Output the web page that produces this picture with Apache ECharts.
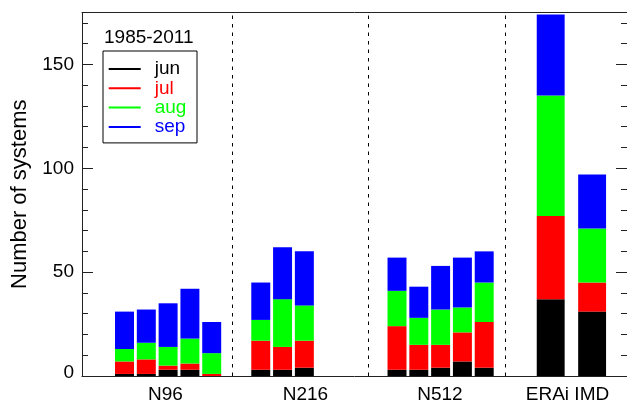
<!DOCTYPE html>
<html>
<head>
<meta charset="utf-8">
<script src="https://cdn.jsdelivr.net/npm/echarts@6/dist/echarts.min.js"></script>
<style>
  html, body { margin: 0; padding: 0; background: #fff; }
  #chart { width: 627px; height: 404px; }
</style>
</head>
<body>
<div id="chart"></div>
<script>
// Seasonal counts of systems per run (1985-2011), stacked by month.
// Bar order: N96 x5, N216 x3, N512 x5, ERAi, IMD
const runs = ['N96', 'N216', 'N512'];
const runMembers = [5, 3, 5];
const references = ['ERAi', 'IMD'];
const months = ['jun', 'jul', 'aug', 'sep'];

const jun = [1, 1, 3, 3, 0,   3, 3, 4,   3, 3, 4, 7, 4,   37, 31];
const jul = [6, 7, 2, 3, 1,  14, 11, 13, 21, 12, 11, 14, 22, 40, 14];
const aug = [6, 8, 9, 12, 10, 10, 23, 17, 17, 13, 17, 12, 19, 58, 26];
const sep = [18, 16, 21, 24, 15, 18, 25, 26, 16, 15, 21, 24, 15, 39, 26];

const yTicksMajor = [0, 50, 100, 150];

// ---- layout (axis units: one unit per bar slot) ----
const FONT = "'Liberation Sans', Arial, Helvetica, sans-serif";
const monthColors = ['#000000', '#ff0000', '#00ff00', '#0000ff'];
const runStart = [1.95, 8.2, 14.45];
const refPos = [21.5, 23.4];
const runBarWidth = 0.87;
const refBarWidth = 1.28;
const separators = [6.9, 13.15, 19.4];
const labelPos = [3.83, 10.25, 16.42, 22.27];
const labelText = runs.concat([references.join(' ')]);

const barX = [];
const barW = [];
runs.forEach((r, g) => {
  for (let i = 0; i < runMembers[g]; i++) { barX.push(runStart[g] + i); barW.push(runBarWidth); }
});
refPos.forEach(p => { barX.push(p); barW.push(refBarWidth); });

const monthValues = [jun, jul, aug, sep];
const base = barX.map(() => 0);
const series = months.map((m, k) => {
  const data = barX.map((x, i) => {
    const y0 = base[i];
    const y1 = y0 + monthValues[k][i];
    base[i] = y1;
    return [x, y0, y1, barW[i]];
  });
  return {
    name: m,
    type: 'custom',
    xAxisIndex: 0,
    yAxisIndex: 0,
    itemStyle: { color: monthColors[k] },
    encode: { x: 0, y: [1, 2] },
    data: data,
    renderItem: function (params, api) {
      const x = api.value(0), y0 = api.value(1), y1 = api.value(2), w = api.value(3);
      if (y1 <= y0) return null;
      const p0 = api.coord([x, y0]);
      const p1 = api.coord([x, y1]);
      const half = api.size([w, 0])[0] / 2;
      return {
        type: 'rect',
        shape: { x: p0[0] - half, y: p1[1], width: half * 2, height: p0[1] - p1[1] },
        style: { fill: api.visual('color') }
      };
    }
  };
});

// dashed separators between runs
series.push({
  type: 'line',
  data: [],
  silent: true,
  markLine: {
    symbol: ['none', 'none'],
    silent: true,
    label: { show: false },
    lineStyle: { color: '#000', width: 1, type: [3.5, 5] },
    data: separators.map(v => ({ xAxis: v }))
  }
});

const minorVals = [];
for (let v = 10; v < 175; v += 10) if (v % 50 !== 0) minorVals.push(v);

const lineStyle = { color: '#222', width: 1 };
function yAxisDef(position, values, len, withLabels) {
  return {
    type: 'value', min: 0, max: 175, position: position,
    axisLine: { show: withLabels, onZero: false, lineStyle: lineStyle },
    axisTick: { show: true, inside: true, length: len, customValues: values, lineStyle: lineStyle },
    axisLabel: withLabels ? {
      show: true, customValues: yTicksMajor, margin: 8,
      fontSize: 19, color: '#000', fontFamily: FONT,
      // the zero label sits just above the baseline rather than centred on it
      formatter: function (v) { return v === 0 ? '{zero|0}' : String(v); },
      rich: {
        zero: { fontSize: 19, color: '#000', fontFamily: FONT, padding: [0, 0, 7, 0] }
      }
    } : { show: false },
    splitLine: { show: false }
  };
}

const chart = echarts.init(document.getElementById('chart'), null, { renderer: 'canvas' });
chart.setOption({
  animation: false,
  backgroundColor: '#fff',
  title: {
    text: '1985-2011', left: 104, top: 28, padding: 0,
    textStyle: { fontSize: 19, fontWeight: 'normal', color: '#000', fontFamily: FONT }
  },
  legend: {
    orient: 'vertical', left: 103, top: 51,
    padding: [8.5, 10.6, 6.5, 5.7],
    borderColor: '#000', borderWidth: 1,
    itemGap: 0.3, itemWidth: 41, itemHeight: 2,
    icon: 'path://M0,0H32V2H0Z M41,0L41,2',
    itemStyle: { borderWidth: 0 },
    selectedMode: false,
    textStyle: { fontSize: 19, fontFamily: FONT },
    data: months.map((m, i) => ({ name: m, textStyle: { color: monthColors[i] } }))
  },
  grid: { left: 82, right: 0, top: 12.5, bottom: 23.5 },
  xAxis: [
    {
      type: 'value', min: 0, max: 25, position: 'bottom',
      axisLine: { show: true, onZero: false, lineStyle: lineStyle },
      axisTick: { show: false },
      splitLine: { show: false },
      axisLabel: {
        show: true, customValues: labelPos, margin: 9,
        fontSize: 19, color: '#000', fontFamily: FONT,
        formatter: function (v) {
          const i = labelPos.indexOf(v);
          return i >= 0 ? labelText[i] : '';
        }
      }
    },
    {
      type: 'value', min: 0, max: 25, position: 'top',
      axisLine: { show: true, onZero: false, lineStyle: lineStyle },
      axisTick: { show: false }, axisLabel: { show: false }, splitLine: { show: false }
    }
  ],
  yAxis: [
    Object.assign(yAxisDef('left', yTicksMajor, 11, true), {
      name: 'Number of systems', nameLocation: 'middle', nameGap: 50,
      nameTextStyle: { fontSize: 22, color: '#000', fontFamily: FONT }
    }),
    yAxisDef('left', minorVals, 6, false),
    yAxisDef('right', yTicksMajor, 11, false),
    yAxisDef('right', minorVals, 6, false)
  ],
  series: series
});
</script>
</body>
</html>
